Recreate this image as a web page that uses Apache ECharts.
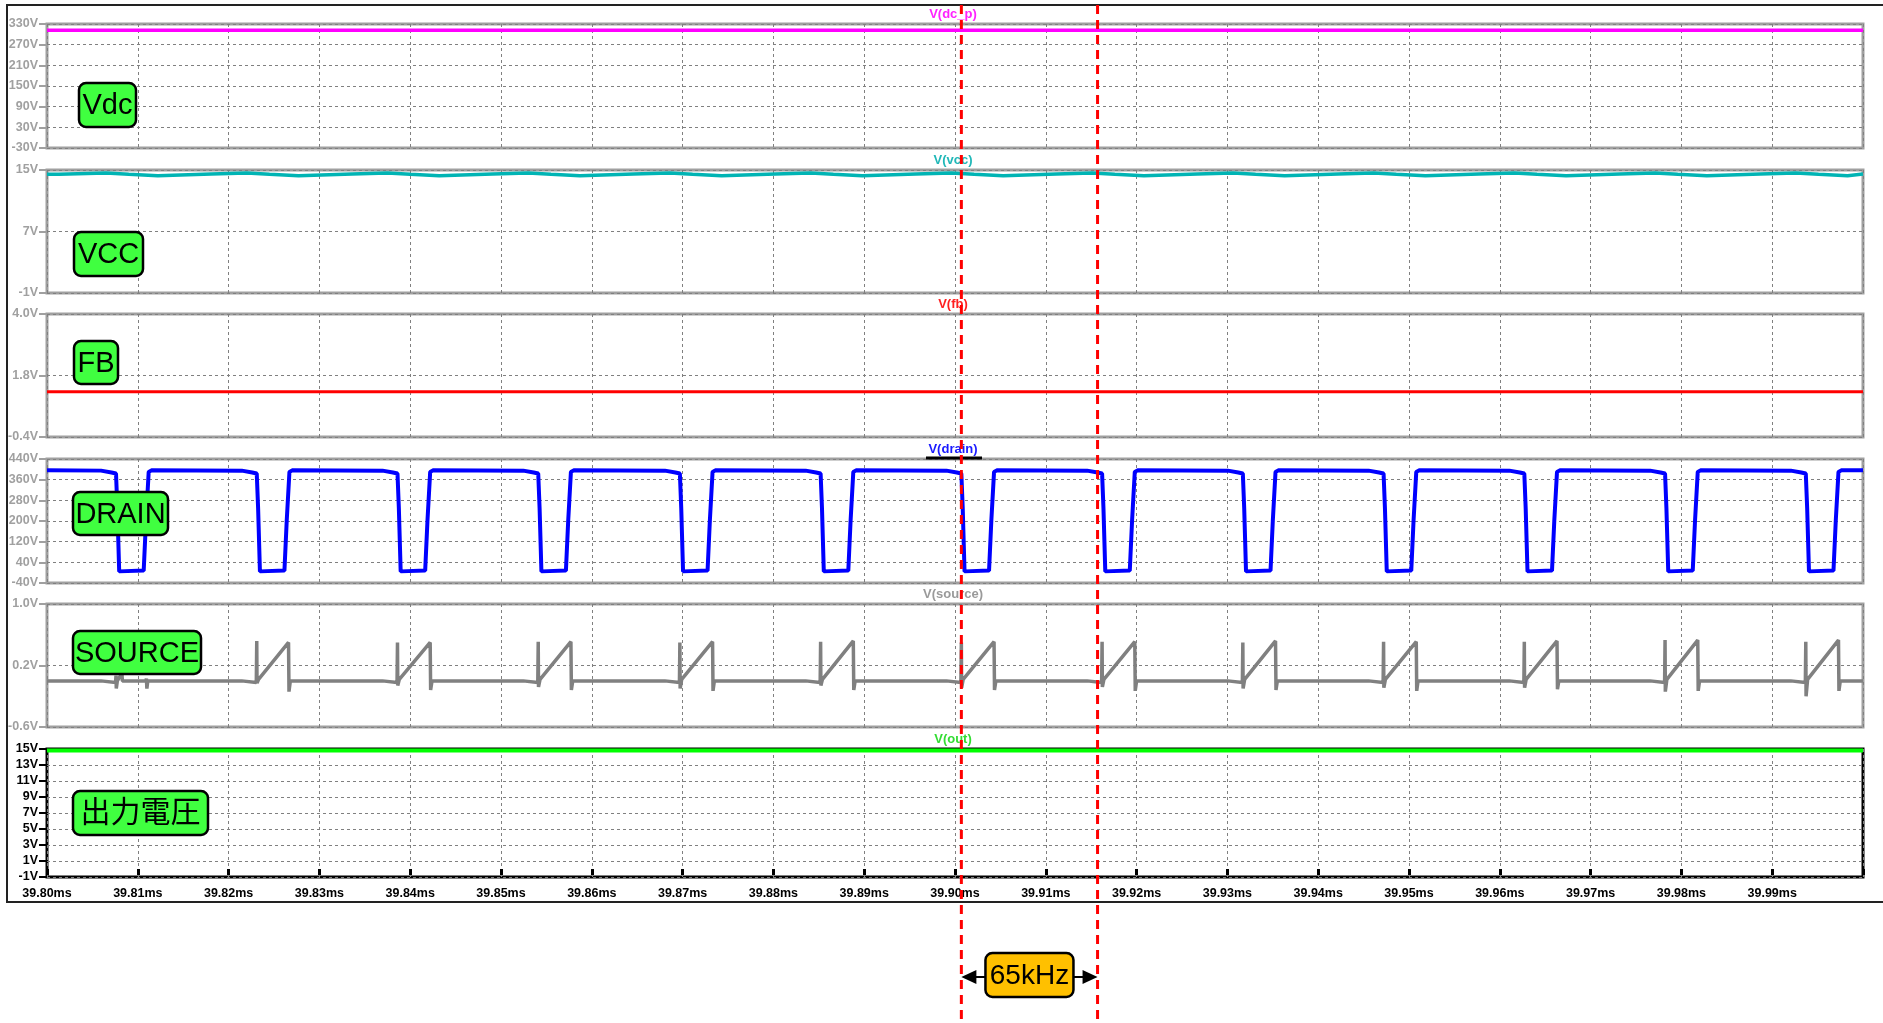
<!DOCTYPE html>
<html><head><meta charset="utf-8">
<script src="https://cdn.jsdelivr.net/npm/echarts@6/dist/echarts.min.js"></script>
<style>html,body{margin:0;padding:0;background:#fff;overflow:hidden}#c{width:1883px;height:1023px;}</style>
</head><body><div id="c"></div><script>
// ---------- DATA (time in µs, voltage in V) ----------
const timeRange = [39800, 40000];
const timeStep = 10;
const cursorTimes = [39900.7, 39915.7];
const freqText = '65kHz';

const traceNames = ['V(dc_p)', 'V(vcc)', 'V(fb)', 'V(drain)', 'V(source)', 'V(out)'];
const boxLabels = ['Vdc', 'VCC', 'FB', 'DRAIN', 'SOURCE', '出力電圧'];

const yMins = [-30, -1, -0.4, -40, -0.6, -1];
const yMaxs = [330, 15, 4.0, 440, 1.0, 15];
const yIntervals = [60, 8, 2.2, 80, 0.8, 2];
const yDecimals = [0, 0, 1, 0, 1, 0];

const vdcWave = [[39800, 312], [40000, 312]];
const fbWave = [[39800, 1.22], [40000, 1.22]];
const outWave = [[39800, 14.8], [40000, 14.8]];

const vccWave = [
[39800,14.44],[39801.3,14.6],
[39806.5,14.44],[39809.0,14.26],[39812.2,14.48],[39818.1,14.6],
[39822.0,14.44],[39824.5,14.26],[39827.7,14.48],[39833.6,14.6],
[39837.5,14.44],[39840.0,14.26],[39843.2,14.48],[39849.1,14.6],
[39853.0,14.44],[39855.5,14.26],[39858.7,14.48],[39864.6,14.6],
[39868.6,14.44],[39871.1,14.26],[39874.3,14.48],[39880.2,14.6],
[39884.1,14.44],[39886.6,14.26],[39889.8,14.48],[39895.7,14.6],
[39899.6,14.44],[39902.1,14.26],[39905.3,14.48],[39911.2,14.6],
[39915.1,14.44],[39917.6,14.26],[39920.8,14.48],[39926.7,14.6],
[39930.6,14.44],[39933.1,14.26],[39936.3,14.48],[39942.2,14.6],
[39946.1,14.44],[39948.6,14.26],[39951.8,14.48],[39957.7,14.6],
[39961.6,14.44],[39964.1,14.26],[39967.3,14.48],[39973.2,14.6],
[39977.1,14.44],[39979.6,14.26],[39982.8,14.48],[39988.7,14.6],
[39992.6,14.44],[39995.1,14.26],[39998.3,14.48],[40000,14.48]
];

const drainWave = [
[39800.00,396],
[39805.95,395],[39807.10,388],[39807.60,384],[39807.75,250],[39807.95,5],[39810.65,8],[39810.90,200],[39811.20,390],[39811.50,396],
[39821.45,395],[39822.60,388],[39823.10,384],[39823.25,250],[39823.45,5],[39826.15,8],[39826.40,200],[39826.70,390],[39827.00,396],
[39836.95,395],[39838.10,388],[39838.60,384],[39838.75,250],[39838.95,5],[39841.65,8],[39841.90,200],[39842.20,390],[39842.50,396],
[39852.45,395],[39853.60,388],[39854.10,384],[39854.25,250],[39854.45,5],[39857.15,8],[39857.40,200],[39857.70,390],[39858.00,396],
[39868.05,395],[39869.20,388],[39869.70,384],[39869.85,250],[39870.05,5],[39872.75,8],[39873.00,200],[39873.30,390],[39873.60,396],
[39883.55,395],[39884.70,388],[39885.20,384],[39885.35,250],[39885.55,5],[39888.25,8],[39888.50,200],[39888.80,390],[39889.10,396],
[39899.05,395],[39900.20,388],[39900.70,384],[39900.85,250],[39901.05,5],[39903.75,8],[39904.00,200],[39904.30,390],[39904.60,396],
[39914.55,395],[39915.70,388],[39916.20,384],[39916.35,250],[39916.55,5],[39919.25,8],[39919.50,200],[39919.80,390],[39920.10,396],
[39930.05,395],[39931.20,388],[39931.70,384],[39931.85,250],[39932.05,5],[39934.75,8],[39935.00,200],[39935.30,390],[39935.60,396],
[39945.55,395],[39946.70,388],[39947.20,384],[39947.35,250],[39947.55,5],[39950.25,8],[39950.50,200],[39950.80,390],[39951.10,396],
[39961.05,395],[39962.20,388],[39962.70,384],[39962.85,250],[39963.05,5],[39965.75,8],[39966.00,200],[39966.30,390],[39966.60,396],
[39976.55,395],[39977.70,388],[39978.20,384],[39978.35,250],[39978.55,5],[39981.25,8],[39981.50,200],[39981.80,390],[39982.10,396],
[39992.05,395],[39993.20,388],[39993.70,384],[39993.85,250],[39994.05,5],[39996.75,8],[39997.00,200],[39997.30,390],[39997.60,396],
[40000.00,396]
];

const sourceWave = [
[39800,0.0],
[39805.95,0.0],[39806.0,-0.02],[39807.55,-0.02],[39807.6,0.07],[39807.63,-0.1],[39807.75,0.0],[39808.25,0.1],[39808.3,0.0],[39810.9,0.0],[39810.95,0.03],[39811.0,-0.1],[39811.1,0.0],
[39821.45,0.0],[39821.5,-0.02],[39823.05,-0.02],[39823.1,0.52],[39823.13,-0.03],[39823.3,0.02],[39826.6,0.50],[39826.65,-0.14],[39826.8,0.0],
[39836.95,0.0],[39837.0,-0.02],[39838.55,-0.02],[39838.6,0.50],[39838.63,-0.06],[39838.8,0.02],[39842.2,0.50],[39842.25,-0.12],[39842.4,0.0],
[39852.45,0.0],[39852.5,-0.02],[39854.05,-0.02],[39854.1,0.51],[39854.13,-0.08],[39854.3,0.02],[39857.7,0.51],[39857.75,-0.12],[39857.9,0.0],
[39868.05,0.0],[39868.1,-0.02],[39869.65,-0.02],[39869.7,0.50],[39869.73,-0.10],[39869.9,0.02],[39873.3,0.51],[39873.35,-0.13],[39873.5,0.0],
[39883.55,0.0],[39883.6,-0.02],[39885.15,-0.02],[39885.2,0.51],[39885.23,-0.06],[39885.4,0.02],[39888.8,0.52],[39888.85,-0.12],[39889.0,0.0],
[39899.05,0.0],[39899.1,-0.02],[39900.65,-0.02],[39900.7,0.50],[39900.73,-0.09],[39900.9,0.02],[39904.3,0.51],[39904.35,-0.12],[39904.5,0.0],
[39914.55,0.0],[39914.6,-0.02],[39916.15,-0.02],[39916.2,0.51],[39916.23,-0.08],[39916.4,0.02],[39919.8,0.51],[39919.85,-0.13],[39920.0,0.0],
[39930.05,0.0],[39930.1,-0.02],[39931.65,-0.02],[39931.7,0.50],[39931.73,-0.10],[39931.9,0.02],[39935.3,0.52],[39935.35,-0.12],[39935.5,0.0],
[39945.55,0.0],[39945.6,-0.02],[39947.15,-0.02],[39947.2,0.51],[39947.23,-0.09],[39947.4,0.02],[39950.8,0.51],[39950.85,-0.13],[39951.0,0.0],
[39961.05,0.0],[39961.1,-0.02],[39962.65,-0.02],[39962.7,0.51],[39962.73,-0.09],[39962.9,0.02],[39966.3,0.52],[39966.35,-0.11],[39966.5,0.0],
[39976.55,0.0],[39976.6,-0.02],[39978.15,-0.02],[39978.2,0.53],[39978.23,-0.14],[39978.4,0.02],[39981.8,0.53],[39981.85,-0.13],[39982.0,0.0],
[39992.05,0.0],[39992.1,-0.02],[39993.65,-0.02],[39993.7,0.51],[39993.73,-0.20],[39993.9,0.02],[39997.3,0.53],[39997.35,-0.13],[39997.5,0.0],
[40000,0.0]
];

const waves = [vdcWave, vccWave, fbWave, drainWave, sourceWave, outWave];

// ---------- STYLE / LAYOUT ----------
const FONT = '"Liberation Sans", Arial, "Noto Sans CJK JP", sans-serif';
const traceColors = ['#FF00FF', '#00B4B4', '#FF0000', '#0000FF', '#808080', '#00FF00'];
const titleColors = ['#FF22FF', '#20B8B8', '#FF2020', '#1A1AFF', '#9A9A9A', '#33DD33'];
const gridTops = [24, 170, 314, 459, 604, 749];
const gridHeights = [124, 123, 123, 124, 123, 128];
const lineWidths = [3.5, 3.5, 3, 4, 3.5, 4];
const boxRects = [[79,83,57,44],[74,232,69,44],[74,341,44,43],[73,492,95,43],[73,631,128,43],[73,791,135,44]];
const GL = 47, GR = 20;

const chart = echarts.init(document.getElementById('c'), null, {renderer: 'canvas'});

const grids = [], xAxes = [], yAxes = [], series = [];
for (let i = 0; i < 6; i++) {
  const last = i === 5;
  const axisCol = last ? '#000' : '#A0A0A0';
  grids.push({left: GL, right: GR, top: gridTops[i], height: gridHeights[i], show: true,
    borderColor: axisCol, borderWidth: 3, backgroundColor: 'rgba(0,0,0,0)'});
  xAxes.push({type: 'value', gridIndex: i, min: timeRange[0], max: timeRange[1], interval: timeStep,
    axisLine: {show: false},
    axisTick: {show: last, length: 6, lineStyle: {color: '#000', width: 3}},
    axisLabel: {show: last, color: '#000', fontWeight: 'bold', fontSize: 12.5, fontFamily: FONT, margin: 10,
      formatter: v => v >= timeRange[1] ? '' : (v / 1000).toFixed(2) + 'ms'},
    splitLine: {show: true, lineStyle: {color: '#808080', width: 1, type: [3, 3]}}
  });
  yAxes.push({type: 'value', gridIndex: i, min: yMins[i], max: yMaxs[i], interval: yIntervals[i],
    axisLine: {show: false},
    axisTick: {show: true, length: 8, lineStyle: {color: axisCol, width: 2}},
    axisLabel: {color: last ? '#000' : '#A0A0A0', fontWeight: 'bold', fontSize: 12.5, fontFamily: FONT, margin: 9,
      formatter: v => Number(v).toFixed(yDecimals[i]) + 'V'},
    splitLine: {show: true, lineStyle: {color: '#808080', width: 1, type: [3, 3]}}
  });
  series.push({type: 'line', name: traceNames[i], xAxisIndex: i, yAxisIndex: i, data: waves[i],
    showSymbol: false, symbol: 'none', step: i === 1 ? 'end' : false, clip: true,
    lineStyle: {color: traceColors[i], width: lineWidths[i]}, z: 3});
}

chart.setOption({animation: false, backgroundColor: '#fff', grid: grids, xAxis: xAxes, yAxis: yAxes, series: series});

// ---------- ANNOTATIONS ----------
const g = [];
g.push({type: 'rect', shape: {x: 7, y: 5, width: 1900, height: 897}, style: {fill: 'none', stroke: '#222', lineWidth: 2}, z: 50});
for (let i = 0; i < 6; i++) {
  g.push({type: 'text', x: 953, y: gridTops[i] - 10, z: 60,
    style: {text: traceNames[i], fill: titleColors[i], font: 'bold 13px ' + FONT,
      align: 'center', verticalAlign: 'middle', textAlign: 'center', textVerticalAlign: 'middle'}});
  const r = boxRects[i];
  g.push({type: 'rect', shape: {x: r[0], y: r[1], width: r[2], height: r[3], r: 7}, z: 70,
    style: {fill: '#40FF40', stroke: '#000', lineWidth: 2.5}});
  g.push({type: 'text', x: r[0] + r[2] / 2, y: r[1] + r[3] / 2 + 1, z: 71,
    style: {text: boxLabels[i], fill: '#000', font: (i === 5 ? '30px ' : '29px ') + FONT,
      align: 'center', verticalAlign: 'middle', textAlign: 'center', textVerticalAlign: 'middle'}});
}
// selected-trace underline
g.push({type: 'line', shape: {x1: 926, y1: 458, x2: 982, y2: 458}, style: {stroke: '#000', lineWidth: 3}, z: 61});

const cx = cursorTimes.map(t => chart.convertToPixel({xAxisIndex: 0}, t));
cx.forEach(x => {
  g.push({type: 'line', shape: {x1: x, y1: 5, x2: x, y2: 1023}, z: 90,
    style: {stroke: '#FF0000', lineWidth: 3, lineDash: [9, 6]}});
});
const ay = 977, mid = (cx[0] + cx[1]) / 2;
g.push({type: 'line', shape: {x1: cx[0] + 10, y1: ay, x2: cx[1] - 10, y2: ay}, style: {stroke: '#000', lineWidth: 2}, z: 80});
g.push({type: 'polygon', shape: {points: [[cx[0], ay], [cx[0] + 15, ay - 7], [cx[0] + 15, ay + 7]]}, style: {fill: '#000'}, z: 80});
g.push({type: 'polygon', shape: {points: [[cx[1], ay], [cx[1] - 15, ay - 7], [cx[1] - 15, ay + 7]]}, style: {fill: '#000'}, z: 80});
g.push({type: 'rect', shape: {x: mid - 44, y: ay - 24, width: 88, height: 44, r: 7}, style: {fill: '#FFC000', stroke: '#000', lineWidth: 2.5}, z: 85});
g.push({type: 'text', x: mid, y: ay - 1, z: 86,
  style: {text: freqText, fill: '#000', font: '28px ' + FONT, align: 'center', verticalAlign: 'middle', textAlign: 'center', textVerticalAlign: 'middle'}});

chart.setOption({graphic: g});
</script></body></html>
